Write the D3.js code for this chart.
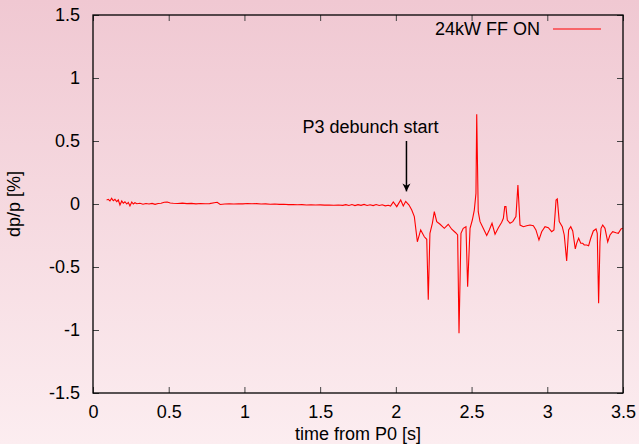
<!DOCTYPE html>
<meta charset="utf-8">
<script src="https://d3js.org/d3.v7.min.js"></script>
<style>
  body { margin: 0; }
  text { font-family: "Liberation Sans", Arial, sans-serif; }
</style>
<div id="chart"></div>
<script>
// dp/p signal
var times = [
  0.090,0.101,0.112,0.123,0.134,0.145,0.157,0.167,0.178,0.190,0.200,0.211,0.223,0.233,0.244,0.256,0.266,0.277,0.289,
  0.31,0.33,0.35,0.37,0.39,0.41,0.43,0.45,0.47,0.49,0.51,0.53,0.56,0.59,0.62,0.65,0.68,0.71,0.74,0.77,0.80,0.82,0.84,0.87,
  0.90,0.93,0.96,0.99,1.02,1.05,1.08,1.11,1.14,1.17,1.20,1.23,1.26,1.29,1.32,1.35,1.38,1.41,1.44,1.47,1.50,1.53,1.56,1.59,
  1.62,1.65,1.67,1.69,1.71,1.73,1.75,1.77,1.79,1.81,1.83,1.85,1.87,1.89,1.91,1.93,1.95,1.965,
  1.983,2.006,2.032,2.049,2.065,2.087,2.105,2.122,2.142,2.164,2.188,2.204,2.214,2.225,2.241,2.254,2.270,2.292,2.320,2.346,
  2.369,2.395,2.408,2.417,2.430,2.445,2.463,2.474,2.490,2.505,2.518,2.529,2.534,2.544,2.556,2.577,2.600,2.617,2.635,2.655,
  2.677,2.699,2.710,2.719,2.727,2.736,2.754,2.772,2.793,2.806,2.820,2.842,2.864,2.886,2.908,2.925,2.945,2.963,2.985,3.007,
  3.029,3.044,3.058,3.066,3.079,3.099,3.112,3.128,3.141,3.155,3.168,3.185,3.194,3.207,3.221,3.234,3.244,3.260,3.273,3.287,
  3.304,3.322,3.330,3.339,3.348,3.355,3.366,3.381,3.399,3.414,3.432,3.454,3.469,3.487,3.498
];
var dpp = [
  0.032,0.037,0.024,0.045,0.026,0.037,0.018,0.032,-0.008,0.024,0.006,0.018,0.000,0.013,-0.016,0.016,0.000,0.010,0.002,
  0.006,-0.002,0.004,0.000,0.005,-0.003,0.004,0.006,0.014,0.016,0.008,0.006,0.004,0.007,0.003,0.005,0.001,0.004,0.002,0.003,0.010,0.014,-0.004,0.000,
  0.002,0.000,0.002,0.001,0.004,0.002,0.003,0.000,0.001,-0.002,0.000,-0.003,-0.002,-0.005,-0.004,-0.006,-0.005,-0.008,-0.006,-0.008,-0.007,-0.009,-0.008,-0.010,
  -0.008,-0.011,-0.005,-0.012,-0.004,-0.013,-0.005,-0.011,-0.003,-0.012,-0.006,-0.013,-0.004,-0.012,-0.006,-0.015,-0.010,-0.016,
  0.016,-0.021,0.032,-0.016,0.021,-0.008,-0.048,-0.100,-0.300,-0.206,-0.260,-0.280,-0.760,-0.233,-0.153,-0.061,-0.140,-0.161,-0.193,-0.161,
  -0.200,-0.228,-0.246,-1.026,-0.233,-0.193,-0.180,-0.656,-0.193,-0.127,-0.048,0.084,0.712,-0.061,-0.140,-0.193,-0.250,-0.206,-0.153,-0.240,
  -0.188,-0.145,-0.113,-0.021,-0.021,-0.127,-0.153,-0.140,-0.100,0.151,-0.167,-0.180,-0.172,-0.167,-0.172,-0.206,-0.286,-0.220,-0.180,-0.188,
  -0.220,-0.206,0.032,0.040,-0.140,-0.180,-0.246,-0.452,-0.206,-0.180,-0.214,-0.357,-0.312,-0.272,-0.312,-0.312,-0.325,-0.325,-0.331,-0.272,
  -0.214,-0.198,-0.233,-0.788,-0.300,-0.193,-0.167,-0.193,-0.300,-0.246,-0.220,-0.228,-0.233,-0.198,-0.193
];
var xTicks = [0, 0.5, 1, 1.5, 2, 2.5, 3, 3.5];
var yTicks = [-1.5, -1, -0.5, 0, 0.5, 1, 1.5];
var seriesName = "24kW FF ON";
var annotation = {label: "P3 debunch start", t: 2.07};

var W = 639, H = 444;
var margin = {top: 15, right: 16, bottom: 51, left: 93},
    width = W - margin.left - margin.right,
    height = H - margin.top - margin.bottom;

var svg = d3.select("#chart").append("svg")
    .attr("width", W)
    .attr("height", H);

// pink vertical gradient behind everything
var defs = svg.append("defs");
var grad = defs.append("linearGradient")
    .attr("id", "bg").attr("x1", 0).attr("y1", 0).attr("x2", 0).attr("y2", 1);
grad.append("stop").attr("offset", "0%").attr("stop-color", "#f0c8d2");
grad.append("stop").attr("offset", "100%").attr("stop-color", "#fcedf0");
svg.append("rect").attr("width", W).attr("height", H).attr("fill", "url(#bg)");

defs.append("marker")
    .attr("id", "head")
    .attr("viewBox", "0 0 10 10")
    .attr("refX", 10).attr("refY", 5)
    .attr("markerWidth", 8).attr("markerHeight", 9)
    .attr("markerUnits", "userSpaceOnUse")
    .attr("orient", "auto")
  .append("path")
    .attr("d", "M0,0 L10,5 L0,10 L3,5 Z")
    .attr("fill", "#000");

var g = svg.append("g")
    .attr("transform", "translate(" + margin.left + "," + margin.top + ")");

var x = d3.scaleLinear().domain([0, 3.5]).range([0, width]);
var y = d3.scaleLinear().domain([-1.5, 1.5]).range([height, 0]);
var fmt = function(d) { return String(d); };

function styleAxis(sel) {
  sel.select(".domain").remove();
  sel.selectAll(".tick line").attr("stroke", "#444");
  sel.selectAll(".tick text")
    .attr("fill", "#000")
    .style("font-size", "18px")
    .style("font-family", "'Liberation Sans', Arial, sans-serif");
}

// bottom + left with labels, top + right mirrored ticks only
g.append("g")
    .attr("transform", "translate(0," + height + ")")
    .call(d3.axisBottom(x).tickValues(xTicks).tickFormat(fmt).tickSize(-6).tickPadding(12))
    .call(styleAxis);
g.append("g")
    .call(d3.axisTop(x).tickValues(xTicks).tickFormat("").tickSize(-6))
    .call(styleAxis);
g.append("g")
    .call(d3.axisLeft(y).tickValues(yTicks).tickFormat(fmt).tickSize(-6).tickPadding(13))
    .call(styleAxis);
g.append("g")
    .attr("transform", "translate(" + width + ",0)")
    .call(d3.axisRight(y).tickValues(yTicks).tickFormat("").tickSize(-6))
    .call(styleAxis);

// the signal
var pts = times.map(function(t, i) { return [t, dpp[i]]; });
g.append("path")
    .datum(pts)
    .attr("fill", "none")
    .attr("stroke", "#ff0000")
    .attr("stroke-width", 1.1)
    .attr("d", d3.line().x(function(d) { return x(d[0]); }).y(function(d) { return y(d[1]); }));

// frame
g.append("rect")
    .attr("width", width).attr("height", height)
    .attr("fill", "none").attr("stroke", "#000").attr("stroke-width", 1.3);

// legend
g.append("text")
    .attr("x", 447).attr("y", 20)
    .attr("text-anchor", "end")
    .style("font-size", "18px")
    .text(seriesName);
g.append("line")
    .attr("x1", 460).attr("x2", 508)
    .attr("y1", 14).attr("y2", 14)
    .attr("stroke", "#ff0000").attr("stroke-width", 1.1);

// annotation arrow
g.append("text")
    .attr("x", x(annotation.t) - 36).attr("y", y(0.56))
    .attr("text-anchor", "middle")
    .style("font-size", "18px")
    .text(annotation.label);
g.append("line")
    .attr("x1", x(annotation.t)).attr("x2", x(annotation.t))
    .attr("y1", y(0.5)).attr("y2", y(0.1))
    .attr("stroke", "#000").attr("stroke-width", 1.5)
    .attr("marker-end", "url(#head)");

// axis titles
svg.append("text")
    .attr("x", margin.left + width / 2).attr("y", 440)
    .attr("text-anchor", "middle")
    .style("font-size", "18px")
    .text("time from P0 [s]");
svg.append("text")
    .attr("transform", "translate(20," + (margin.top + height / 2) + ") rotate(-90)")
    .attr("text-anchor", "middle")
    .style("font-size", "18px")
    .text("dp/p [%]");
</script>
